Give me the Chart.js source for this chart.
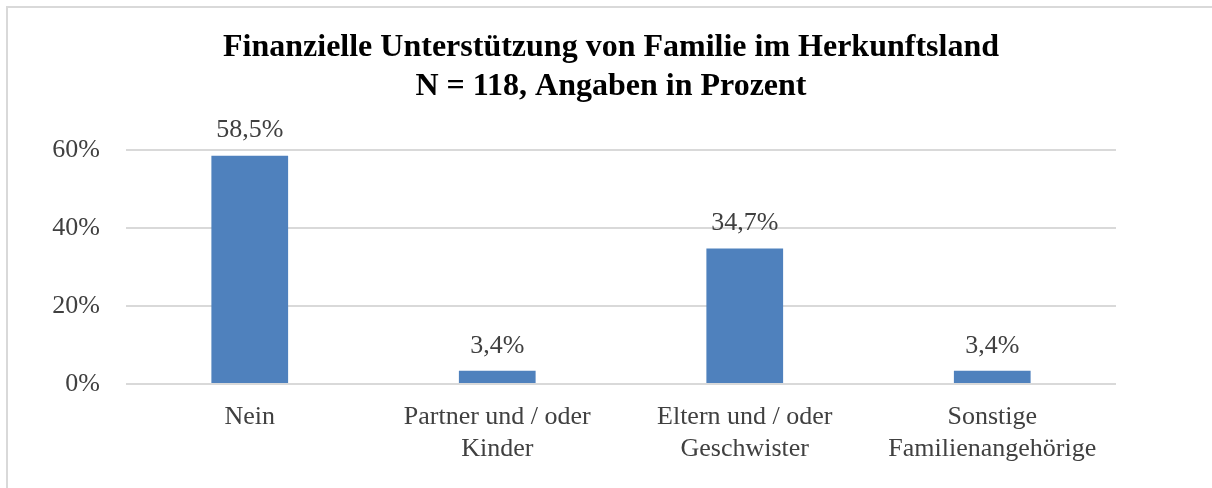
<!DOCTYPE html>
<html>
<head>
<meta charset="utf-8">
<script src="https://cdn.jsdelivr.net/npm/chart.js@4"></script>
<style>
    html, body { margin: 0; padding: 0; background: #fff; }
    #wrap { width: 1212px; height: 488px; position: relative; }
</style>
</head>
<body>
<div id="wrap"><canvas id="chart" width="1212" height="488"></canvas></div>
<script>
// Chart data
const categories = [
    ["Nein"],
    ["Partner und / oder", "Kinder"],
    ["Eltern und / oder", "Geschwister"],
    ["Sonstige", "Familienangehörige"]
];
const values = [58.5, 3.4, 34.7, 3.4];
const valueLabels = ["58,5%", "3,4%", "34,7%", "3,4%"];
const titleLines = ["Finanzielle Unterstützung von Familie im Herkunftsland", "N = 118, Angaben in Prozent"];

const serif = "'Liberation Serif', 'Times New Roman', serif";

// frame lines (top and left of the cropped chart box)
const framePlugin = {
    id: "frame",
    beforeDraw(chart) {
        const c = chart.ctx;
        c.save();
        c.fillStyle = "#fff";
        c.fillRect(0, 0, chart.width, chart.height);
        c.strokeStyle = "#d9d9d9";
        c.lineWidth = 2;
        c.beginPath();
        c.moveTo(7, chart.height);
        c.lineTo(7, 7);
        c.lineTo(chart.width, 7);
        c.stroke();
        c.restore();
    }
};

// value labels above bars
const valueLabelPlugin = {
    id: "valueLabels",
    afterDatasetsDraw(chart) {
        const c = chart.ctx;
        const meta = chart.getDatasetMeta(0);
        c.save();
        c.font = "26px " + serif;
        c.fillStyle = "#404040";
        c.textAlign = "center";
        c.textBaseline = "middle";
        meta.data.forEach((bar, i) => {
            c.fillText(valueLabels[i], bar.x, bar.y - 25);
        });
        c.restore();
    }
};

new Chart(document.getElementById("chart"), {
    type: "bar",
    data: {
        labels: categories,
        datasets: [{
            data: values,
            backgroundColor: "#4f81bd",
            borderWidth: 0,
            barPercentage: 0.62,
            categoryPercentage: 0.5
        }]
    },
    options: {
        responsive: false,
        animation: false,
        layout: { padding: { left: 10, right: 0, top: 0, bottom: 0 } },
        plugins: {
            legend: { display: false },
            tooltip: { enabled: false },
            title: {
                display: true,
                text: titleLines,
                color: "#000",
                font: { family: serif, size: 32, weight: "bold", lineHeight: 1.2 },
                padding: { top: 29, bottom: 44 }
            }
        },
        scales: {
            x: {
                afterFit(scale) { scale.height = 104; },
                grid: { display: false },
                border: { display: false },
                ticks: {
                    color: "#404040",
                    font: { family: serif, size: 26, lineHeight: 1.2 },
                    padding: 10,
                    maxRotation: 0,
                    autoSkip: false
                }
            },
            y: {
                min: 0,
                max: 60,
                afterFit(scale) { scale.width = 116; },
                grid: { color: "#d9d9d9", lineWidth: 2, drawTicks: false },
                border: { display: false },
                ticks: {
                    stepSize: 20,
                    color: "#404040",
                    font: { family: serif, size: 26 },
                    padding: 26,
                    callback: v => v + "%"
                }
            },
            // empty right-hand axis, only reserves the blank space right of the plot
            y2: {
                position: "right",
                afterFit(scale) { scale.width = 96; },
                grid: { display: false },
                border: { display: false },
                ticks: { display: false }
            }
        }
    },
    plugins: [framePlugin, valueLabelPlugin]
});
</script>
</body>
</html>
